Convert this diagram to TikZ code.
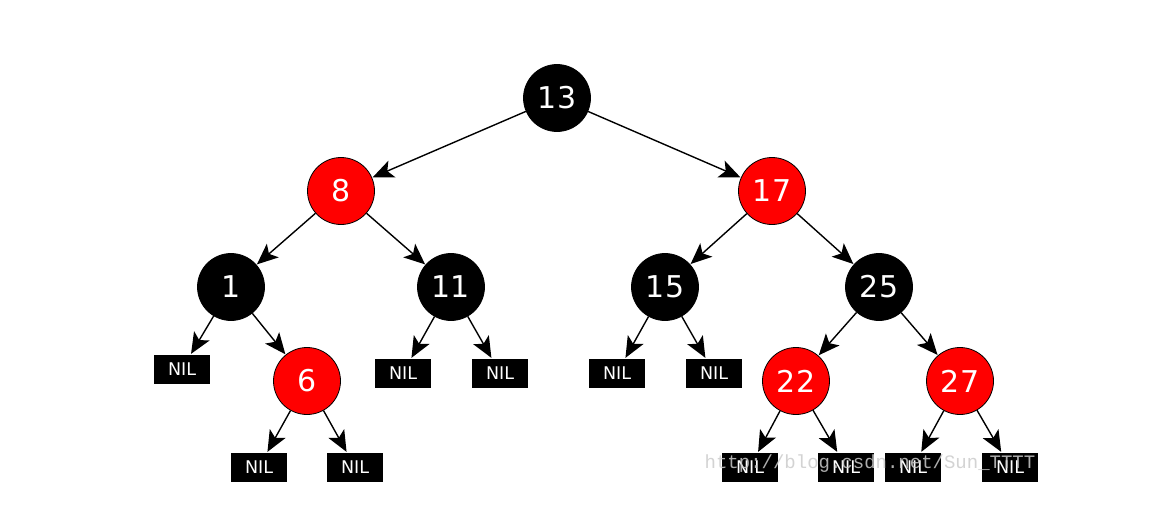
\documentclass[tikz,border=0pt]{standalone}
\usepackage{fontspec}
\setmainfont{DejaVu Sans}
\newfontfamily\wmfont{Liberation Mono}
\usetikzlibrary{arrows.meta}
\definecolor{rbred}{RGB}{255,0,0}
\begin{document}
\begin{tikzpicture}[x=1pt,y=-1pt,
  blk/.style={circle,fill=black,draw=black,line width=0.8pt,minimum size=67pt,inner sep=0pt,text=white,font=\fontsize{30}{32}\selectfont},
  rd/.style={circle,fill=rbred,draw=black,line width=0.8pt,minimum size=67pt,inner sep=0pt,text=white,font=\fontsize{30}{32}\selectfont},
  nil/.style={rectangle,fill=black,minimum width=56pt,minimum height=29pt,inner sep=0pt,text=white,font=\fontsize{17.5}{19}\selectfont},
  edge/.style={line width=1.4pt,-{Stealth[length=21pt,width=18pt,inset=5pt]},shorten >=0.5pt}]
\useasboundingbox (0,0) rectangle (1164,511);
\fill[white] (0,0) rectangle (1164,511);
\node[blk] (n13) at (557,98) {13};
\node[rd] (n8) at (341,191) {8};
\node[rd] (n17) at (772,191) {17};
\node[blk] (n1) at (231,287) {1};
\node[blk] (n11) at (451,287) {11};
\node[blk] (n15) at (665,287) {15};
\node[blk] (n25) at (879,287) {25};
\node[rd] (n6) at (307,381) {6};
\node[rd] (n22) at (796,381) {22};
\node[rd] (n27) at (960,381) {27};
\node[nil] (a1) at (182,369) {NIL};
\node[nil] (a2) at (403,373) {NIL};
\node[nil] (a3) at (500,373) {NIL};
\node[nil] (a4) at (617,373) {NIL};
\node[nil] (a5) at (714,373) {NIL};
\node[nil] (a6) at (259,467) {NIL};
\node[nil] (a7) at (355,467) {NIL};
\node[nil] (a8) at (750,467) {NIL};
\node[nil] (a9) at (846,467) {NIL};
\node[nil] (a10) at (913,467) {NIL};
\node[nil] (a11) at (1010,467) {NIL};
\draw[edge] (n13) -- (n8);
\draw[edge] (n13) -- (n17);
\draw[edge] (n8) -- (n1);
\draw[edge] (n8) -- (n11);
\draw[edge] (n17) -- (n15);
\draw[edge] (n17) -- (n25);
\draw[edge] (n1) -- (a1);
\draw[edge] (n1) -- (n6);
\draw[edge] (n11) -- (a2);
\draw[edge] (n11) -- (a3);
\draw[edge] (n15) -- (a4);
\draw[edge] (n15) -- (a5);
\draw[edge] (n25) -- (n22);
\draw[edge] (n25) -- (n27);
\draw[edge] (n6) -- (a6);
\draw[edge] (n6) -- (a7);
\draw[edge] (n22) -- (a8);
\draw[edge] (n22) -- (a9);
\draw[edge] (n27) -- (a10);
\draw[edge] (n27) -- (a11);
\node[text=black!20,font=\wmfont\fontsize{19}{20}\selectfont,opacity=0.85,inner sep=0pt] (wm) at (870,464) {http://blog.csdn.net/Sun\_TTTT};
\end{tikzpicture}
\end{document}
